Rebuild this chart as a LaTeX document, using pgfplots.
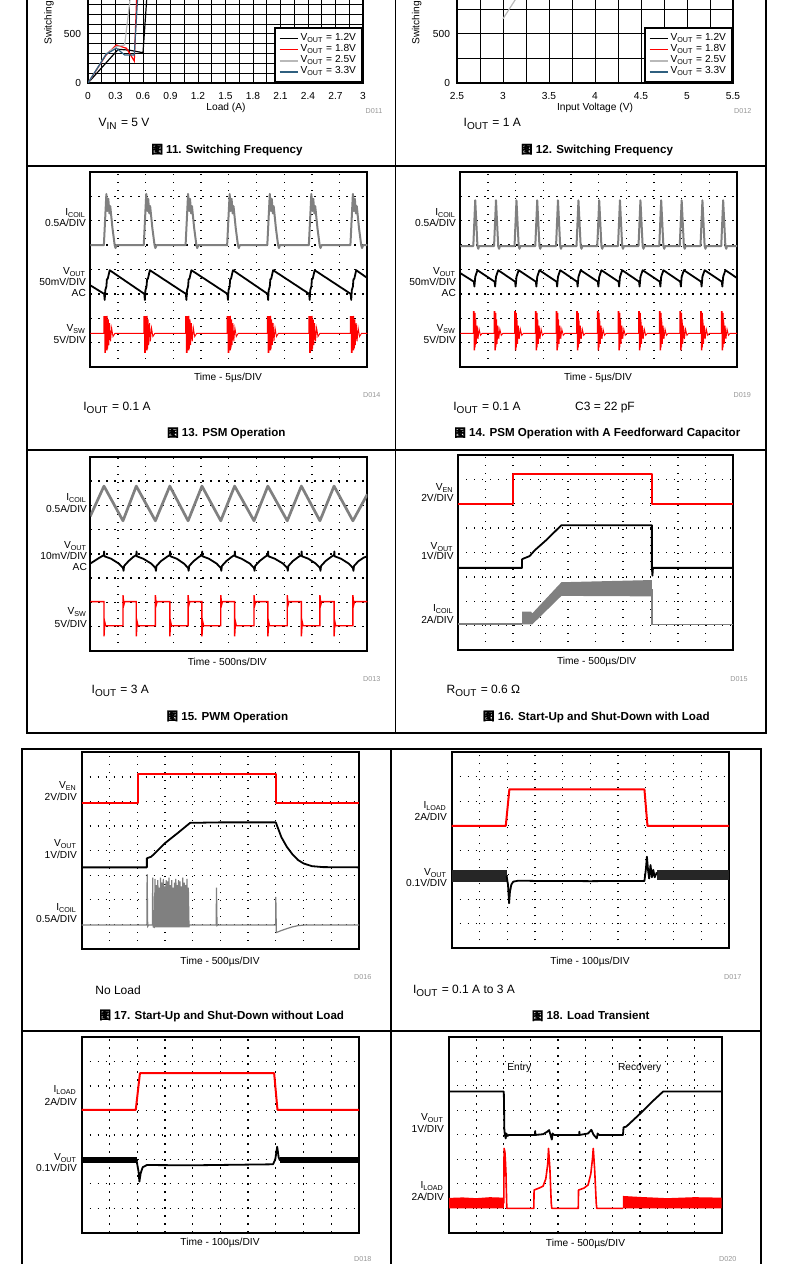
\documentclass[border=0pt]{standalone}
\usepackage{fontspec}
\setmainfont{Liberation Sans}
\newfontfamily\cjk[FakeBold=0.4]{Noto Sans CJK SC}
\usepackage{pgfplots}
\pgfplotsset{compat=1.18}
\definecolor{trgray}{RGB}{128,128,128}
\definecolor{tred}{RGB}{255,0,0}
\definecolor{lgray}{RGB}{185,185,185}
\definecolor{sblue}{RGB}{47,95,127}
\definecolor{dgray}{RGB}{150,150,150}
\newcommand\lf{\fontsize{5.1}{6}\selectfont}
\newcommand\cf{\fontsize{5.8}{7}\selectfont\bfseries}
\newcommand\nf{\fontsize{6}{7}\selectfont}
\newcommand\dfn{\fontsize{3.6}{4}\selectfont}
% text helpers: x,y in reference pixels
\newcommand\Ll[4][]{\node[anchor=west,inner sep=0pt,font=\lf,#1] at ({(#2)*0.5pt},{(1264-(#3))*0.5pt}) {#4};}
\newcommand\Rl[4][]{\node[anchor=east,inner sep=0pt,font=\lf,#1] at ({(#2)*0.5pt},{(1264-(#3))*0.5pt}) {#4};}
\newcommand\Cl[4][]{\node[anchor=center,inner sep=0pt,font=\lf,#1] at ({(#2)*0.5pt},{(1264-(#3))*0.5pt}) {#4};}
\newcommand\Dl[3]{\node[anchor=east,inner sep=0pt,font=\dfn,text=dgray] at ({(#1)*0.5pt},{(1264-(#2))*0.5pt}) {#3};}
\newcommand\Cap[3]{\node[anchor=center,inner sep=0pt,font=\cf] at ({(#1)*0.5pt},{(1264-(#2))*0.5pt}) {{\cjk 图} #3};}
\tikzset{
  gtr/.style={color=trgray, line width=1pt, line join=round},
  gtrt/.style={color=trgray, line width=1.35pt, line join=round},
  btr/.style={color=black, line width=0.9pt, line join=round},
  vsw/.style={color=tred, line width=0.45pt, line join=miter},
  rtr/.style={color=tred, line width=1pt, line join=round},
}
\pgfplotsset{
  scopeaxis/.style={anchor=south west, scale only axis,
    xmin=0,xmax=10,ymin=0,ymax=8,
    xtick={1,2,3,4,5,6,7,8,9}, ytick={1,2,3,4,5,6,7},
    xticklabels={}, yticklabels={},
    major tick length=0pt, grid=major,
    major grid style={black, line width=0.65pt, dash pattern=on 0.65pt off 3.35pt},
    axis line style={line width=1.1pt}},
  freqaxis/.style={anchor=south west, scale only axis, ymin=0, ymax=2000,
    ytick={0,500}, yticklabels={0,500},
    grid=both, major grid style={black,line width=0.5pt}, minor grid style={black,line width=0.5pt},
    major tick length=0pt, minor tick length=0pt,
    axis line style={line width=1.1pt},
    tick label style={font=\lf}, xticklabel style={yshift=-1.2pt},
    legend style={at={(1,0)},anchor=south east, draw=black, line width=1pt, fill=white,
      font=\lf, inner xsep=2pt, inner ysep=1.5pt, row sep=-1.5pt, nodes={inner sep=1pt}},
    legend cell align=left,
    legend image code/.code={\draw[##1, line width=0.8pt] (0pt,0pt) -- (9pt,0pt);}},
}
\begin{document}
\begin{tikzpicture}
\path[use as bounding box] (0,0) rectangle (395pt,632pt);
\clip (0,0) rectangle (395pt,632pt);
% ---------- frames ----------
\draw[line width=0.7pt] (13.5pt,640pt) -- (13.5pt,265.5pt) -- (383pt,265.5pt) -- (383pt,640pt);
\draw[line width=0.7pt] (197.75pt,640pt) -- (197.75pt,265.5pt);
\draw[line width=0.7pt] (13.5pt,549pt) -- (383pt,549pt);
\draw[line width=0.7pt] (13.5pt,407pt) -- (383pt,407pt);
\draw[line width=0.7pt] (11pt,-5pt) -- (11pt,257.5pt) -- (380.5pt,257.5pt) -- (380.5pt,-5pt);
\draw[line width=0.7pt] (195.5pt,257.5pt) -- (195.5pt,-5pt);
\draw[line width=0.7pt] (11pt,116.5pt) -- (380.5pt,116.5pt);

% ---------- Figure 11 ----------
\begin{axis}[freqaxis, at={(44pt,590.5pt)}, width=137.5pt, height=98pt,
  xmin=0, xmax=3,
  xtick={0,0.3,0.6,0.9,1.2,1.5,1.8,2.1,2.4,2.7,3},
  xticklabels={0,0.3,0.6,0.9,1.2,1.5,1.8,2.1,2.4,2.7,3},
  minor xtick={0.15,0.45,0.75,1.05,1.35,1.65,1.95,2.25,2.55,2.85},
  minor ytick={100,200,300,400,600,700,800,900,1000,1100,1200,1300,1400,1500,1600,1700,1800,1900,2000}]
\addplot[black, line width=0.6pt] coordinates {(0,0)(0.33,344)(0.45,335)(0.60,309)(0.64,847)(0.72,1600)(0.85,2100)(3,2150)};
\addlegendentry{V\textsubscript{OUT} = 1.2V}
\addplot[tred, line width=0.6pt] coordinates {(0,0)(0.2,290)(0.31,388)(0.42,354)(0.505,224)(0.53,847)(0.6,1800)(0.9,2100)(3,2150)};
\addlegendentry{V\textsubscript{OUT} = 1.8V}
\addplot[lgray, line width=0.6pt] coordinates {(0,0)(0.2,300)(0.31,371)(0.40,388)(0.458,847)(0.55,1700)(0.9,2100)(3,2150)};
\addlegendentry{V\textsubscript{OUT} = 2.5V}
\addplot[sblue, line width=0.6pt] coordinates {(0,0)(0.2,295)(0.31,355)(0.40,286)(0.505,286)(0.54,847)(0.6,1600)(0.9,2100)(3,2150)};
\addlegendentry{V\textsubscript{OUT} = 3.3V}
\end{axis}
\node[rotate=90,anchor=west,inner sep=0pt,font=\lf] at ({49*0.5pt},{(1264-45)*0.5pt}) {Switching};
\Cl{226}{108}{Load (A)}
\Dl{382.7}{111}{D011}
\Ll[font=\nf]{98.3}{124}{V\textsubscript{IN} = 5 V}
\Cap{227}{150}{11. Switching Frequency}

% ---------- Figure 12 ----------
\begin{axis}[freqaxis, at={(228.5pt,590.5pt)}, width=138pt, height=98pt,
  xmin=2.5, xmax=5.5,
  xtick={2.5,3,3.5,4,4.5,5,5.5}, xticklabels={2.5,3,3.5,4,4.5,5,5.5},
  minor xtick={2.75,3.25,3.75,4.25,4.75,5.25},
  minor ytick={250,750,1000,1250,1500,1750,2000}]
\addplot[black, line width=0.6pt] coordinates {(2.5,2100)(5.5,2100)};
\addlegendentry{V\textsubscript{OUT} = 1.2V}
\addplot[tred, line width=0.6pt] coordinates {(2.5,1500)(3,1950)(3.5,2100)(5.5,2100)};
\addlegendentry{V\textsubscript{OUT} = 1.8V}
\addplot[lgray, line width=0.6pt] coordinates {(3.0,655)(3.25,1020)(3.5,1390)(3.75,1700)(4,1950)(4.5,2100)(5.5,2100)};
\addlegendentry{V\textsubscript{OUT} = 2.5V}
\addplot[sblue, line width=0.6pt] coordinates {(3.75,1200)(4,1700)(4.5,2100)(5.5,2100)};
\addlegendentry{V\textsubscript{OUT} = 3.3V}
\end{axis}
\node[rotate=90,anchor=west,inner sep=0pt,font=\lf] at ({416.7*0.5pt},{(1264-45)*0.5pt}) {Switching};
\Cl{595}{108}{Input Voltage (V)}
\Dl{751.7}{111}{D012}
\Ll[font=\nf]{463.3}{124}{I\textsubscript{OUT} = 1 A}
\Cap{597}{150}{12. Switching Frequency}

% ---------- Figure 13 ----------
\begin{axis}[scopeaxis, at={(45.15pt,448.5pt)}, width=138.5pt, height=97.5pt]
\addplot[gtr] coordinates {(0,5.0)
(0.49,5.0)(0.58,7.1)(0.62,6.4)(0.65,6.9)(0.69,6.3)(0.72,6.6)(0.80,5.7)(0.88,5.0)(0.91,4.88)(0.95,5.0)
(1.93,5.0)(2.02,7.1)(2.06,6.4)(2.09,6.9)(2.13,6.3)(2.16,6.6)(2.24,5.7)(2.32,5.0)(2.35,4.88)(2.39,5.0)
(3.44,5.0)(3.53,7.1)(3.57,6.4)(3.60,6.9)(3.64,6.3)(3.67,6.6)(3.75,5.7)(3.83,5.0)(3.86,4.88)(3.90,5.0)
(4.94,5.0)(5.03,7.1)(5.07,6.4)(5.10,6.9)(5.14,6.3)(5.17,6.6)(5.25,5.7)(5.33,5.0)(5.36,4.88)(5.40,5.0)
(6.39,5.0)(6.48,7.1)(6.52,6.4)(6.55,6.9)(6.59,6.3)(6.62,6.6)(6.70,5.7)(6.78,5.0)(6.81,4.88)(6.85,5.0)
(7.89,5.0)(7.98,7.1)(8.02,6.4)(8.05,6.9)(8.09,6.3)(8.12,6.6)(8.20,5.7)(8.28,5.0)(8.31,4.88)(8.35,5.0)
(9.39,5.0)(9.48,7.1)(9.52,6.4)(9.55,6.9)(9.59,6.3)(9.62,6.6)(9.70,5.7)(9.78,5.0)(9.81,4.88)(9.85,5.0)
(10,5.0)};
\addplot[btr] coordinates {(0,3.35)
(0.5,3.0)(0.52,2.75)(0.54,3.15)(0.58,3.3)(0.6,3.6)(0.63,3.62)(0.7,3.97)
(1.95,3.0)(1.97,2.75)(1.99,3.15)(2.03,3.3)(2.05,3.6)(2.08,3.62)(2.15,3.97)
(3.45,3.0)(3.47,2.75)(3.49,3.15)(3.53,3.3)(3.55,3.6)(3.58,3.62)(3.65,3.97)
(4.95,3.0)(4.97,2.75)(4.99,3.15)(5.03,3.3)(5.05,3.6)(5.08,3.62)(5.15,3.97)
(6.4,3.0)(6.42,2.75)(6.44,3.15)(6.48,3.3)(6.5,3.6)(6.53,3.62)(6.6,3.97)
(7.9,3.0)(7.92,2.75)(7.94,3.15)(7.98,3.3)(8.0,3.6)(8.03,3.62)(8.1,3.97)
(9.4,3.0)(9.42,2.75)(9.44,3.15)(9.48,3.3)(9.5,3.6)(9.53,3.62)(9.6,3.97)
(10,3.65)};
\addplot[vsw] coordinates {(0,1.38)
(0.49,1.38)(0.49,2.07)(0.52,2.07)(0.52,0.6)(0.55,0.6)(0.55,2.07)(0.58,2.07)(0.58,0.7)(0.61,0.7)(0.61,2.1)(0.63,0.75)(0.65,1.95)(0.67,0.9)(0.70,1.8)(0.73,1.05)(0.77,1.6)(0.82,1.25)(0.89,1.38)
(1.93,1.38)(1.93,2.07)(1.96,2.07)(1.96,0.6)(1.99,0.6)(1.99,2.07)(2.02,2.07)(2.02,0.7)(2.05,0.7)(2.05,2.1)(2.07,0.75)(2.09,1.95)(2.11,0.9)(2.14,1.8)(2.17,1.05)(2.21,1.6)(2.26,1.25)(2.33,1.38)
(3.44,1.38)(3.44,2.07)(3.47,2.07)(3.47,0.6)(3.50,0.6)(3.50,2.07)(3.53,2.07)(3.53,0.7)(3.56,0.7)(3.56,2.1)(3.58,0.75)(3.60,1.95)(3.62,0.9)(3.65,1.8)(3.68,1.05)(3.72,1.6)(3.77,1.25)(3.84,1.38)
(4.94,1.38)(4.94,2.07)(4.97,2.07)(4.97,0.6)(5.00,0.6)(5.00,2.07)(5.03,2.07)(5.03,0.7)(5.06,0.7)(5.06,2.1)(5.08,0.75)(5.10,1.95)(5.12,0.9)(5.15,1.8)(5.18,1.05)(5.22,1.6)(5.27,1.25)(5.34,1.38)
(6.39,1.38)(6.39,2.07)(6.42,2.07)(6.42,0.6)(6.45,0.6)(6.45,2.07)(6.48,2.07)(6.48,0.7)(6.51,0.7)(6.51,2.1)(6.53,0.75)(6.55,1.95)(6.57,0.9)(6.60,1.8)(6.63,1.05)(6.67,1.6)(6.72,1.25)(6.79,1.38)
(7.89,1.38)(7.89,2.07)(7.92,2.07)(7.92,0.6)(7.95,0.6)(7.95,2.07)(7.98,2.07)(7.98,0.7)(8.01,0.7)(8.01,2.1)(8.03,0.75)(8.05,1.95)(8.07,0.9)(8.10,1.8)(8.13,1.05)(8.17,1.6)(8.22,1.25)(8.29,1.38)
(9.39,1.38)(9.39,2.07)(9.42,2.07)(9.42,0.6)(9.45,0.6)(9.45,2.07)(9.48,2.07)(9.48,0.7)(9.51,0.7)(9.51,2.1)(9.53,0.75)(9.55,1.95)(9.57,0.9)(9.60,1.8)(9.63,1.05)(9.67,1.6)(9.72,1.25)(9.79,1.38)
(10,1.38)};
\end{axis}
\Rl{86.3}{213.5}{I\textsubscript{COIL}}
\Rl{86.3}{223}{0.5A/DIV}
\Rl{86.3}{272.3}{V\textsubscript{OUT}}
\Rl{86.3}{282.3}{50mV/DIV}
\Rl{86.3}{293.3}{AC}
\Rl{86.3}{329.3}{V\textsubscript{SW}}
\Rl{86.3}{340}{5V/DIV}
\Cl{228}{377.7}{Time - 5µs/DIV}
\Dl{380.7}{395}{D014}
\Ll[font=\nf]{83}{407.7}{I\textsubscript{OUT} = 0.1 A}
\Cap{226.3}{433.3}{13. PSM Operation}

% ---------- Figure 14 ----------
\begin{axis}[scopeaxis, at={(230.15pt,448.5pt)}, width=138.35pt, height=97.5pt]
\addplot[gtr] coordinates {(0,4.96)
(0.47,4.96)(0.54,6.84)(0.62,4.96)(0.65,4.85)(0.68,4.96)
(1.22,4.96)(1.29,6.84)(1.37,4.96)(1.40,4.85)(1.43,4.96)
(1.96,4.96)(2.03,6.84)(2.11,4.96)(2.14,4.85)(2.17,4.96)
(2.71,4.96)(2.78,6.84)(2.86,4.96)(2.89,4.85)(2.92,4.96)
(3.46,4.96)(3.53,6.84)(3.61,4.96)(3.64,4.85)(3.67,4.96)
(4.20,4.96)(4.27,6.84)(4.35,4.96)(4.38,4.85)(4.41,4.96)
(4.95,4.96)(5.02,6.84)(5.10,4.96)(5.13,4.85)(5.16,4.96)
(5.70,4.96)(5.77,6.84)(5.85,4.96)(5.88,4.85)(5.91,4.96)
(6.44,4.96)(6.51,6.84)(6.59,4.96)(6.62,4.85)(6.65,4.96)
(7.19,4.96)(7.26,6.84)(7.34,4.96)(7.37,4.85)(7.40,4.96)
(7.93,4.96)(8.00,6.84)(8.08,4.96)(8.11,4.85)(8.14,4.96)
(8.68,4.96)(8.75,6.84)(8.83,4.96)(8.86,4.85)(8.89,4.96)
(9.43,4.96)(9.50,6.84)(9.58,4.96)(9.61,4.85)(9.64,4.96)
(10,4.96)};
\addplot[btr] coordinates {(0,3.85)
(0.49,3.5)(0.51,3.3)(0.54,3.7)(0.62,3.97)
(1.24,3.5)(1.26,3.3)(1.29,3.7)(1.37,3.97)
(1.98,3.5)(2.00,3.3)(2.03,3.7)(2.11,3.97)
(2.73,3.5)(2.75,3.3)(2.78,3.7)(2.86,3.97)
(3.48,3.5)(3.50,3.3)(3.53,3.7)(3.61,3.97)
(4.22,3.5)(4.24,3.3)(4.27,3.7)(4.35,3.97)
(4.97,3.5)(4.99,3.3)(5.02,3.7)(5.10,3.97)
(5.72,3.5)(5.74,3.3)(5.77,3.7)(5.85,3.97)
(6.46,3.5)(6.48,3.3)(6.51,3.7)(6.59,3.97)
(7.21,3.5)(7.23,3.3)(7.26,3.7)(7.34,3.97)
(7.95,3.5)(7.97,3.3)(8.00,3.7)(8.08,3.97)
(8.70,3.5)(8.72,3.3)(8.75,3.7)(8.83,3.97)
(9.45,3.5)(9.47,3.3)(9.50,3.7)(9.58,3.97)
(10,3.65)};
\addplot[vsw] coordinates {(0,1.38)
(0.47,1.38)(0.47,2.27)(0.50,2.27)(0.50,0.7)(0.52,0.7)(0.52,2.2)(0.54,2.2)(0.54,0.8)(0.56,1.95)(0.58,0.95)(0.61,1.7)(0.64,1.15)(0.68,1.55)(0.73,1.3)(0.79,1.38)
(1.22,1.38)(1.22,2.27)(1.25,2.27)(1.25,0.7)(1.27,0.7)(1.27,2.2)(1.29,2.2)(1.29,0.8)(1.31,1.95)(1.33,0.95)(1.36,1.7)(1.39,1.15)(1.43,1.55)(1.48,1.3)(1.54,1.38)
(1.96,1.38)(1.96,2.27)(1.99,2.27)(1.99,0.7)(2.01,0.7)(2.01,2.2)(2.03,2.2)(2.03,0.8)(2.05,1.95)(2.07,0.95)(2.10,1.7)(2.13,1.15)(2.17,1.55)(2.22,1.3)(2.28,1.38)
(2.71,1.38)(2.71,2.27)(2.74,2.27)(2.74,0.7)(2.76,0.7)(2.76,2.2)(2.78,2.2)(2.78,0.8)(2.80,1.95)(2.82,0.95)(2.85,1.7)(2.88,1.15)(2.92,1.55)(2.97,1.3)(3.03,1.38)
(3.46,1.38)(3.46,2.27)(3.49,2.27)(3.49,0.7)(3.51,0.7)(3.51,2.2)(3.53,2.2)(3.53,0.8)(3.55,1.95)(3.57,0.95)(3.60,1.7)(3.63,1.15)(3.67,1.55)(3.72,1.3)(3.78,1.38)
(4.20,1.38)(4.20,2.27)(4.23,2.27)(4.23,0.7)(4.25,0.7)(4.25,2.2)(4.27,2.2)(4.27,0.8)(4.29,1.95)(4.31,0.95)(4.34,1.7)(4.37,1.15)(4.41,1.55)(4.46,1.3)(4.52,1.38)
(4.95,1.38)(4.95,2.27)(4.98,2.27)(4.98,0.7)(5.00,0.7)(5.00,2.2)(5.02,2.2)(5.02,0.8)(5.04,1.95)(5.06,0.95)(5.09,1.7)(5.12,1.15)(5.16,1.55)(5.21,1.3)(5.27,1.38)
(5.70,1.38)(5.70,2.27)(5.73,2.27)(5.73,0.7)(5.75,0.7)(5.75,2.2)(5.77,2.2)(5.77,0.8)(5.79,1.95)(5.81,0.95)(5.84,1.7)(5.87,1.15)(5.91,1.55)(5.96,1.3)(6.02,1.38)
(6.44,1.38)(6.44,2.27)(6.47,2.27)(6.47,0.7)(6.49,0.7)(6.49,2.2)(6.51,2.2)(6.51,0.8)(6.53,1.95)(6.55,0.95)(6.58,1.7)(6.61,1.15)(6.65,1.55)(6.70,1.3)(6.76,1.38)
(7.19,1.38)(7.19,2.27)(7.22,2.27)(7.22,0.7)(7.24,0.7)(7.24,2.2)(7.26,2.2)(7.26,0.8)(7.28,1.95)(7.30,0.95)(7.33,1.7)(7.36,1.15)(7.40,1.55)(7.45,1.3)(7.51,1.38)
(7.93,1.38)(7.93,2.27)(7.96,2.27)(7.96,0.7)(7.98,0.7)(7.98,2.2)(8.00,2.2)(8.00,0.8)(8.02,1.95)(8.04,0.95)(8.07,1.7)(8.10,1.15)(8.14,1.55)(8.19,1.3)(8.25,1.38)
(8.68,1.38)(8.68,2.27)(8.71,2.27)(8.71,0.7)(8.73,0.7)(8.73,2.2)(8.75,2.2)(8.75,0.8)(8.77,1.95)(8.79,0.95)(8.82,1.7)(8.85,1.15)(8.89,1.55)(8.94,1.3)(9.00,1.38)
(9.43,1.38)(9.43,2.27)(9.46,2.27)(9.46,0.7)(9.48,0.7)(9.48,2.2)(9.50,2.2)(9.50,0.8)(9.52,1.95)(9.54,0.95)(9.57,1.7)(9.60,1.15)(9.64,1.55)(9.69,1.3)(9.75,1.38)
(10,1.38)};
\end{axis}
\Rl{456.3}{213.5}{I\textsubscript{COIL}}
\Rl{456.3}{223}{0.5A/DIV}
\Rl{456.3}{272.3}{V\textsubscript{OUT}}
\Rl{456.3}{282.3}{50mV/DIV}
\Rl{456.3}{293.3}{AC}
\Rl{456.3}{329.3}{V\textsubscript{SW}}
\Rl{456.3}{340}{5V/DIV}
\Cl{598}{377.7}{Time - 5µs/DIV}
\Dl{751.3}{395}{D019}
\Ll[font=\nf]{453}{407.7}{I\textsubscript{OUT} = 0.1 A}
\Ll[font=\nf]{574.7}{407.7}{C3 = 22 pF}
\Cap{597.3}{433.3}{14. PSM Operation with A Feedforward Capacitor}

% ---------- Figure 15 ----------
\begin{axis}[scopeaxis, at={(45.15pt,306.5pt)}, width=138.5pt, height=97.15pt]
\addplot[gtrt] coordinates {(0,5.55)(0.494,6.79)(1.18,5.36)(1.66,6.79)(2.35,5.36)(2.87,6.79)(3.53,5.36)(4.03,6.79)(4.71,5.36)(5.21,6.79)(5.91,5.36)(6.41,6.79)(7.11,5.36)(7.62,6.79)(8.29,5.36)(8.80,6.79)(9.48,5.36)(10,6.45)};
\addplot[btr] coordinates {(0,3.6)(0.3,3.82)(0.494,3.95)(0.50,4.1)(0.51,3.9)(0.75,3.8)(1.03,3.6)(1.18,3.42)(1.20,3.3)(1.22,3.5)(1.38,3.7)(1.56,3.88)(1.66,3.95)(1.67,4.1)(1.68,3.9)(1.91,3.8)(2.20,3.6)(2.35,3.42)(2.37,3.3)(2.39,3.5)(2.55,3.7)(2.77,3.88)(2.87,3.95)(2.88,4.1)(2.89,3.9)(3.12,3.8)(3.38,3.6)(3.53,3.42)(3.55,3.3)(3.57,3.5)(3.73,3.7)(3.93,3.88)(4.03,3.95)(4.04,4.1)(4.05,3.9)(4.28,3.8)(4.56,3.6)(4.71,3.42)(4.73,3.3)(4.75,3.5)(4.91,3.7)(5.11,3.88)(5.21,3.95)(5.22,4.1)(5.23,3.9)(5.46,3.8)(5.76,3.6)(5.91,3.42)(5.93,3.3)(5.95,3.5)(6.11,3.7)(6.31,3.88)(6.41,3.95)(6.42,4.1)(6.43,3.9)(6.66,3.8)(6.96,3.6)(7.11,3.42)(7.13,3.3)(7.15,3.5)(7.31,3.7)(7.52,3.88)(7.62,3.95)(7.63,4.1)(7.64,3.9)(7.87,3.8)(8.14,3.6)(8.29,3.42)(8.31,3.3)(8.33,3.5)(8.49,3.7)(8.70,3.88)(8.80,3.95)(8.81,4.1)(8.82,3.9)(9.05,3.8)(9.33,3.6)(9.48,3.42)(9.50,3.3)(9.52,3.5)(9.68,3.7)(9.88,3.85)(10,3.9)};
\addplot[color=tred, line width=0.7pt] coordinates {(0,2.03)(0.494,2.03)(0.494,0.6)(0.52,1.2)(0.55,1.04)(1.18,1.04)(1.18,2.3)(1.21,1.9)(1.24,2.03)(1.66,2.03)(1.66,0.6)(1.69,1.2)(1.72,1.04)(2.35,1.04)(2.35,2.3)(2.38,1.9)(2.41,2.03)(2.87,2.03)(2.87,0.6)(2.90,1.2)(2.93,1.04)(3.53,1.04)(3.53,2.3)(3.56,1.9)(3.59,2.03)(4.03,2.03)(4.03,0.6)(4.06,1.2)(4.09,1.04)(4.71,1.04)(4.71,2.3)(4.74,1.9)(4.77,2.03)(5.21,2.03)(5.21,0.6)(5.24,1.2)(5.27,1.04)(5.91,1.04)(5.91,2.3)(5.94,1.9)(5.97,2.03)(6.41,2.03)(6.41,0.6)(6.44,1.2)(6.47,1.04)(7.11,1.04)(7.11,2.3)(7.14,1.9)(7.17,2.03)(7.62,2.03)(7.62,0.6)(7.65,1.2)(7.68,1.04)(8.29,1.04)(8.29,2.3)(8.32,1.9)(8.35,2.03)(8.80,2.03)(8.80,0.6)(8.83,1.2)(8.86,1.04)(9.48,1.04)(9.48,2.3)(9.51,1.9)(9.54,2.03)(10,2.03)};
\end{axis}
\Rl{87.3}{498}{I\textsubscript{COIL}}
\Rl{87.3}{509}{0.5A/DIV}
\Rl{87.3}{545.7}{V\textsubscript{OUT}}
\Rl{87.3}{556}{10mV/DIV}
\Rl{87.3}{567.3}{AC}
\Rl{87.3}{611.7}{V\textsubscript{SW}}
\Rl{87.3}{624.3}{5V/DIV}
\Cl{227.3}{662}{Time - 500ns/DIV}
\Dl{380.7}{678.7}{D013}
\Ll[font=\nf]{91.3}{690.7}{I\textsubscript{OUT} = 3 A}
\Cap{227.3}{716.7}{15. PWM Operation}

% ---------- Figure 16 ----------
\begin{axis}[scopeaxis, at={(229pt,307pt)}, width=137.5pt, height=97.5pt]
\addplot[rtr] coordinates {(0,6.0)(2.0,6.0)(2.0,7.2)(7.05,7.2)(7.05,6.0)(10,6.0)};
\addplot[btr] coordinates {(0,3.37)(2.33,3.37)(2.33,3.72)(2.4,3.76)(2.6,3.85)(2.8,4.1)(3.2,4.5)(3.76,5.12)(7.05,5.12)(7.05,3.37)(7.07,3.05)(7.09,3.37)(10,3.37)};
\addplot[draw=none, fill=trgray] coordinates {(2.33,1.05)(2.33,1.57)(2.66,1.57)(2.7,1.5)(3.76,2.78)(7.05,2.87)(7.05,2.2)(3.76,2.22)(2.7,1.05)};
\addplot[gtr] coordinates {(0,1.05)(2.33,1.05)};
\addplot[color=trgray, line width=0.8pt] coordinates {(7.05,2.5)(7.05,1.05)(10,1.05)};
\end{axis}
\Rl{454}{487.7}{V\textsubscript{EN}}
\Rl{454}{497.7}{2V/DIV}
\Rl{454}{546.7}{V\textsubscript{OUT}}
\Rl{454}{556}{1V/DIV}
\Rl{454}{609.3}{I\textsubscript{COIL}}
\Rl{454}{620}{2A/DIV}
\Cl{596.7}{662}{Time - 500µs/DIV}
\Dl{748}{678.7}{D015}
\Ll[font=\nf]{446.3}{690.7}{R\textsubscript{OUT} = 0.6 Ω}
\Cap{596.3}{716.7}{16. Start-Up and Shut-Down with Load}

% ---------- Figure 17 ----------
\begin{axis}[scopeaxis, at={(40.85pt,157.5pt)}, width=138.65pt, height=98.35pt]
\addplot[rtr] coordinates {(0,5.92)(2.02,5.92)(2.02,7.11)(7.0,7.11)(7.0,5.92)(10,5.92)};
\addplot[btr] coordinates {(0,3.32)(2.35,3.32)(2.35,3.69)(2.5,3.75)(2.6,3.85)(3.0,4.3)(3.5,4.75)(3.91,5.13)(5.0,5.15)(7.0,5.15)(7.1,4.85)(7.2,4.55)(7.4,4.15)(7.6,3.85)(7.8,3.62)(8.0,3.48)(8.3,3.37)(8.7,3.33)(10,3.32)};
\addplot[color=trgray, line width=0.6pt, line join=miter] coordinates {(0,0.98)(2.35,0.98)(2.36,3.04)(2.38,0.92)(2.42,0.98)(2.55,0.98)(2.56,2.9)(2.58,0.9)
(2.62,0.88)(2.645,2.85)(2.67,0.88)(2.695,2.6)(2.72,0.88)(2.745,2.8)(2.77,0.88)(2.795,2.5)(2.82,0.88)(2.845,2.9)(2.87,0.88)(2.895,2.7)(2.92,0.88)(2.945,2.85)(2.97,0.88)(2.995,2.55)(3.02,0.88)(3.045,2.8)(3.07,0.88)(3.095,2.75)(3.12,0.88)(3.145,2.9)(3.17,0.88)(3.195,2.6)(3.22,0.88)(3.245,2.8)(3.27,0.88)(3.295,2.5)(3.32,0.88)(3.345,2.7)(3.37,0.88)(3.395,2.85)(3.42,0.88)(3.445,2.6)(3.47,0.88)(3.495,2.8)(3.52,0.88)(3.545,2.75)(3.57,0.88)(3.595,2.55)(3.62,0.88)(3.645,2.9)(3.67,0.88)(3.695,2.7)(3.72,0.88)(3.745,2.6)(3.77,0.88)(3.795,2.85)(3.82,0.88)(3.845,2.5)(3.87,0.88)(3.88,0.98)
(4.85,0.98)(4.86,2.5)(4.88,0.95)(4.92,0.98)(7.0,0.98)(7.0,2.12)(7.02,0.67)(7.2,0.75)(7.4,0.83)(7.6,0.9)(7.8,0.95)(8.1,0.98)(10,0.98)};
\end{axis}
\Rl{77.3}{785.7}{V\textsubscript{EN}}
\Rl{77.3}{796.7}{2V/DIV}
\Rl{77.3}{844.3}{V\textsubscript{OUT}}
\Rl{77.3}{855}{1V/DIV}
\Rl{77.3}{908.3}{I\textsubscript{COIL}}
\Rl{77.3}{919}{0.5A/DIV}
\Cl{220}{961.7}{Time - 500µs/DIV}
\Dl{371.7}{976.7}{D016}
\Ll[font=\nf]{95}{990}{No Load}
\Cap{221.7}{1015.7}{17. Start-Up and Shut-Down without Load}

% ---------- Figure 18 ----------
\begin{axis}[scopeaxis, at={(225.85pt,157.85pt)}, width=138.65pt, height=98pt]
\addplot[rtr] coordinates {(0,5.0)(1.95,5.0)(2.08,6.49)(6.95,6.49)(7.06,5.0)(10,5.0)};
\addplot[draw=none, fill=black!85] coordinates {(0,2.72)(1.98,2.72)(1.98,3.2)(0,3.2)};
\addplot[draw=none, fill=black!85] coordinates {(7.4,2.78)(10,2.78)(10,3.2)(7.4,3.2)};
\addplot[btr] coordinates {(1.98,2.95)(2.03,2.6)(2.07,1.84)(2.1,2.3)(2.15,2.6)(2.22,2.72)(2.4,2.76)(3,2.75)(4,2.75)(5,2.74)(6,2.75)(6.95,2.75)(7.0,3.2)(7.04,3.74)(7.08,3.2)(7.12,2.85)(7.17,3.4)(7.22,2.9)(7.27,3.2)(7.32,2.9)(7.4,3.1)};
\end{axis}
\Rl{447.3}{806}{I\textsubscript{LOAD}}
\Rl{447.3}{816.7}{2A/DIV}
\Rl{447.3}{873.3}{V\textsubscript{OUT}}
\Rl{447.3}{883.3}{0.1V/DIV}
\Cl{590}{961.7}{Time - 100µs/DIV}
\Dl{741.7}{976.7}{D017}
\Ll[font=\nf]{412.7}{991}{I\textsubscript{OUT} = 0.1 A to 3 A}
\Cap{590.7}{1015.7}{18. Load Transient}

% ---------- Figure 19 ----------
\begin{axis}[scopeaxis, at={(40.85pt,15.65pt)}, width=138.65pt, height=97.7pt]
\addplot[rtr] coordinates {(0,5.03)(1.95,5.03)(2.1,6.53)(6.94,6.53)(7.06,5.03)(10,5.03)};
\addplot[draw=none, fill=black] coordinates {(0,2.84)(1.98,2.84)(1.98,3.11)(0,3.11)};
\addplot[draw=none, fill=black] coordinates {(7.15,2.84)(10,2.84)(10,3.11)(7.15,3.11)};
\addplot[btr] coordinates {(1.98,2.95)(2.05,2.5)(2.08,2.09)(2.13,2.45)(2.2,2.68)(2.35,2.77)(4,2.76)(6.9,2.8)(6.98,3.0)(7.05,3.52)(7.1,3.1)(7.15,2.95)};
\end{axis}
\Rl{77.3}{1090}{I\textsubscript{LOAD}}
\Rl{77.3}{1101.7}{2A/DIV}
\Rl{77.3}{1158}{V\textsubscript{OUT}}
\Rl{77.3}{1168}{0.1V/DIV}
\Cl{220}{1243.3}{Time - 100µs/DIV}
\Dl{371.7}{1259}{D018}

% ---------- Figure 20 ----------
\begin{axis}[scopeaxis, at={(224.5pt,15.65pt)}, width=136.35pt, height=98pt]
\addplot[btr] coordinates {(0,5.76)(2.01,5.76)(2.03,4.2)(2.05,3.99)(2.08,3.85)(2.1,4.05)(2.15,3.95)(2.2,3.99)(3.15,3.99)(3.16,4.15)(3.17,3.99)(3.45,4.02)(3.6,4.12)(3.67,4.19)(3.72,4.0)(3.77,3.8)(3.8,4.05)(3.85,3.99)(4.77,3.99)(4.78,4.12)(4.79,3.99)(5.1,4.05)(5.22,4.2)(5.3,4.0)(5.42,3.85)(5.45,4.05)(5.5,3.99)(6.38,3.99)(6.4,4.3)(6.5,4.33)(7.0,4.85)(7.5,5.4)(7.85,5.76)(10,5.76)};
\addplot[draw=none, fill=tred] coordinates {(0,0.99)(2.01,0.99)(2.01,1.43)(1.5,1.45)(1.0,1.41)(0.5,1.44)(0,1.42)};
\addplot[draw=none, fill=tred] coordinates {(6.38,0.99)(10,0.99)(10,1.43)(9,1.45)(8,1.41)(7,1.46)(6.38,1.5)};
\addplot[color=tred, line width=0.8pt, line join=round] coordinates {(2.01,1.2)(2.02,3.44)(2.05,3.3)(2.07,2.9)(2.09,2.4)(2.1,1.88)(2.12,0.99)(3.11,0.99)(3.12,1.74)(3.3,1.82)(3.45,1.9)(3.55,2.2)(3.62,2.8)(3.65,3.44)(3.7,2.6)(3.75,1.2)(3.77,0.99)(4.74,0.99)(4.75,1.74)(4.95,1.82)(5.1,1.95)(5.2,2.4)(5.26,3.0)(5.29,3.44)(5.34,2.6)(5.4,1.2)(5.42,0.99)(6.38,0.99)};
\end{axis}
\Ll{507}{1068}{Entry}
\Ll{617.7}{1068}{Recovery}
\Rl{444.3}{1118}{V\textsubscript{OUT}}
\Rl{444.3}{1129}{1V/DIV}
\Rl{444.3}{1185.7}{I\textsubscript{LOAD}}
\Rl{444.3}{1196.7}{2A/DIV}
\Cl{585.5}{1244}{Time - 500µs/DIV}
\Dl{736.7}{1259}{D020}
\end{tikzpicture}
\end{document}
